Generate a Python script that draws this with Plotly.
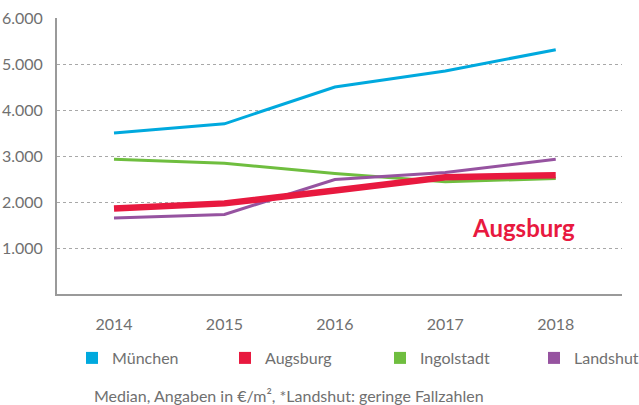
import plotly.graph_objects as go

years = ["2014", "2015", "2016", "2017", "2018"]
muenchen = [3500, 3700, 4500, 4850, 5310]
augsburg = [1860, 1970, 2250, 2540, 2580]
ingolstadt = [2930, 2840, 2620, 2440, 2510]
landshut = [1650, 1730, 2490, 2640, 2930]
y_ticks = [1000, 2000, 3000, 4000, 5000, 6000]
y_labels = ["1.000", "2.000", "3.000", "4.000", "5.000", "6.000"]

colors = {"München": "#00a9de", "Augsburg": "#e8193f",
          "Ingolstadt": "#6fbe3f", "Landshut": "#9653a0"}
widths = {"München": 3, "Augsburg": 6.5, "Ingolstadt": 3, "Landshut": 3}
series = [("Ingolstadt", ingolstadt), ("München", muenchen),
          ("Landshut", landshut), ("Augsburg", augsburg)]
legend_order = ["München", "Augsburg", "Ingolstadt", "Landshut"]

FONT = "Lato"
GREY = "#707070"
L, R, T, B, W, H = 57, 17, 18, 111, 639, 405
PW, PH = W - L - R, H - T - B

fig = go.Figure()
xs = list(range(len(years)))
for name, vals in series:
    fig.add_trace(go.Scatter(x=xs, y=vals, mode="lines", name=name,
                             line=dict(color=colors[name], width=widths[name]),
                             showlegend=False))

legend_left_px = [72, 225, 380, 534]
legend_layout = {}
for i, name in enumerate(legend_order):
    lid = "legend" if i == 0 else f"legend{i + 1}"
    fig.add_trace(go.Scatter(x=[None], y=[None], mode="markers", name=name,
                             marker=dict(symbol="square", size=12, color=colors[name]),
                             showlegend=True, legend=lid))
    legend_layout[lid] = dict(x=(legend_left_px[i] - L) / PW, xanchor="left",
                              y=(T + PH - 358) / PH, yanchor="middle",
                              bgcolor="rgba(0,0,0,0)",
                              font=dict(family=FONT, size=16, color=GREY))

fig.add_annotation(x=4.19, y=1435, xref="x", yref="y", text="<b>Augsburg</b>",
                   showarrow=False, xanchor="right", yanchor="middle",
                   font=dict(family=FONT, size=24, color="#e8193f"))

fig.add_annotation(x=(92 - L) / PW, y=(T + PH - 395) / PH, xref="paper", yref="paper",
                   text="Median, Angaben in €/m², *Landshut: geringe Fallzahlen",
                   showarrow=False, xanchor="left", yanchor="middle",
                   font=dict(family=FONT, size=16, color=GREY))

fig.update_layout(
    width=W, height=H,
    margin=dict(l=L, r=R, t=T, b=B, autoexpand=False),
    paper_bgcolor="white", plot_bgcolor="white",
    separators=",.",
    font=dict(family=FONT, color=GREY, size=16),
    xaxis=dict(range=[-0.516, 4.6], tickvals=xs, ticktext=years,
               showgrid=False, zeroline=False, showline=True, automargin=False,
               linecolor="#9a9a9a", linewidth=2, ticks="",
               ticklabelstandoff=15, tickfont=dict(size=16, color=GREY)),
    yaxis=dict(range=[0, 6000], tickvals=y_ticks, ticktext=y_labels, automargin=False,
               showgrid=True, gridcolor="#a8a8a8", griddash="dot", gridwidth=1,
               zeroline=False, showline=True, linecolor="#9a9a9a", linewidth=2,
               ticks="", ticklabelstandoff=9, tickfont=dict(size=16, color=GREY)),
    **legend_layout,
)

fig.write_html("out.html", config={"displayModeBar": False},
               post_script="document.body.style.margin='0';")
